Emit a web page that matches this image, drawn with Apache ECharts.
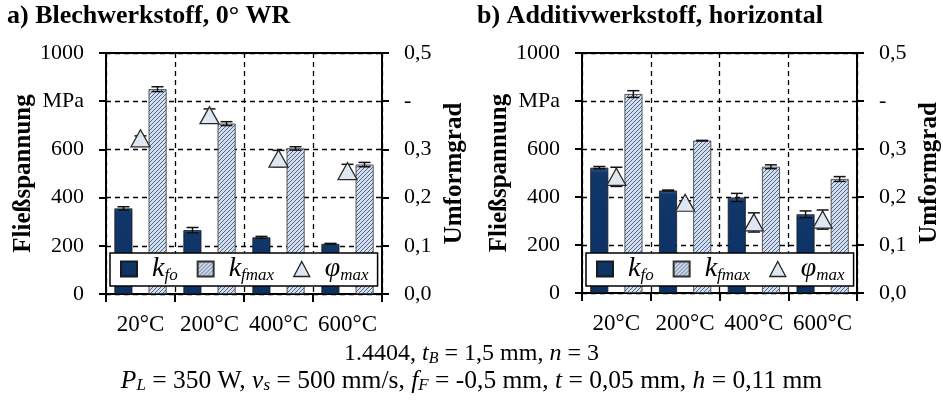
<!DOCTYPE html>
<html>
<head>
<meta charset="utf-8">
<script src="https://cdn.jsdelivr.net/npm/echarts@6/dist/echarts.min.js"></script>
<style>
  html, body { margin: 0; padding: 0; background: #fff; }
  #chart { width: 943px; height: 402px; }
</style>
</head>
<body>
<div id="chart"></div>
<script>
// Kategorien und Achsbeschriftungen
const categories = ['20°C', '200°C', '400°C', '600°C'];
const leftTickLabels = ['0', '200', '400', '600', 'MPa', '1000'];
const rightTickLabels = ['0,0', '0,1', '0,2', '0,3', '-', '0,5'];

// a) Blechwerkstoff
const aKfo = [355, 265, 235, 208];
const aKfoErr = [7, 11, 4, 2];
const aKfmax = [850, 707, 604, 537];
const aKfmaxErr = [10, 8, 7, 9];
const aPhi = [0.323, 0.371, 0.281, 0.255];
const aPhiErr = [0.005, 0.013, 0.017, 0.014];

// b) Additivwerkstoff
const bKfo = [522, 427, 398, 328];
const bKfoErr = [5, 2, 17, 14];
const bKfmax = [829, 635, 526, 475];
const bKfmaxErr = [14, 1, 8, 10];
const bPhi = [0.242, 0.188, 0.147, 0.153];
const bPhiErr = [0.02, 0.004, 0.02, 0.02];

const FONT = 'Liberation Serif';
const BAR_W = 18;
const BAR_OFF = 17;

// Schraffur fuer k_fmax
function hatch() {
  const c = document.createElement('canvas');
  c.width = 4; c.height = 4;
  const g = c.getContext('2d');
  g.fillStyle = '#d3ddeb';
  g.fillRect(0, 0, 4, 4);
  g.strokeStyle = '#50688f';
  g.lineWidth = 1;
  g.beginPath();
  g.moveTo(0, 4); g.lineTo(4, 0);
  g.moveTo(-1, 1); g.lineTo(1, -1);
  g.moveTo(3, 5); g.lineTo(5, 3);
  g.stroke();
  return c;
}
const hatchColor = { image: hatch(), repeat: 'repeat' };
const kfoColor = new echarts.graphic.LinearGradient(0, 0, 0, 1, [
  { offset: 0, color: '#3a6294' }, { offset: 0.04, color: '#10366a' }, { offset: 1, color: '#0c3163' }
]);

function errSeries(name, gi, yi, vals, errs, off) {
  return {
    type: 'custom', name: name + '_err', xAxisIndex: gi, yAxisIndex: yi, z: 4, silent: true,
    data: vals.map((v, i) => [i, v, errs[i]]),
    renderItem(params, api) {
      const x = api.value(0), v = api.value(1), e = api.value(2);
      const t = api.coord([x, v + e]);
      const b = api.coord([x, v - e]);
      const px = t[0] + off;
      const st = { stroke: '#111', lineWidth: 1.5 };
      return { type: 'group', children: [
        { type: 'line', shape: { x1: px, y1: t[1], x2: px, y2: b[1] }, style: st },
        { type: 'line', shape: { x1: px - 6, y1: t[1], x2: px + 6, y2: t[1] }, style: st },
        { type: 'line', shape: { x1: px - 6, y1: b[1], x2: px + 6, y2: b[1] }, style: st }
      ]};
    }
  };
}

function seriesFor(gi, kfo, kfoErr, kfmax, kfmaxErr, phi, phiErr) {
  const yl = gi * 2, yr = gi * 2 + 1;
  return [
    { type: 'bar', name: 'kfo', xAxisIndex: gi, yAxisIndex: yl, data: kfo, barWidth: BAR_W, barGap: '90%',
      itemStyle: { color: kfoColor, borderColor: '#1a1a1a', borderWidth: 0.8 } },
    { type: 'bar', name: 'kfmax', xAxisIndex: gi, yAxisIndex: yl, data: kfmax, barWidth: BAR_W, barGap: '90%',
      itemStyle: { color: hatchColor, borderColor: '#333', borderWidth: 0.8 } },
    errSeries('kfo', gi, yl, kfo, kfoErr, -BAR_OFF),
    errSeries('kfmax', gi, yl, kfmax, kfmaxErr, BAR_OFF),
    errSeries('phimax', gi, yr, phi, phiErr, 0),
    { type: 'scatter', name: 'phimax', xAxisIndex: gi, yAxisIndex: yr, data: phi, z: 5,
      symbol: 'triangle', symbolSize: [19, 17],
      itemStyle: { color: '#dfe7f3', borderColor: '#2a2a2a', borderWidth: 1.3, opacity: 1 } }
  ];
}

const grids = [
  { left: 106, width: 276, top: 53, height: 241 },
  { left: 582, width: 276, top: 53, height: 240 }
];

const axisLineStyle = { show: true, lineStyle: { color: '#000', width: 2 } };
const dashLine = { show: true, lineStyle: { color: '#000', width: 1.3, type: [5, 4] } };

const xAxes = grids.map((g, i) => ({
  type: 'category', gridIndex: i, data: categories, boundaryGap: true,
  axisLine: axisLineStyle,
  axisTick: { show: true, length: 8, lineStyle: { color: '#000', width: 2 } },
  axisLabel: { color: '#000', fontFamily: FONT, fontSize: 23, margin: 19, interval: 0 },
  splitLine: dashLine
}));

const yAxes = [];
grids.forEach((g, i) => {
  yAxes.push({
    type: 'value', gridIndex: i, position: 'left', min: 0, max: 1000, interval: 200,
    name: 'Fließspannung', nameLocation: 'middle', nameGap: 70, nameRotate: 90,
    nameTextStyle: { color: '#000', fontFamily: FONT, fontWeight: 'bold', fontSize: 25 },
    axisLine: axisLineStyle,
    axisTick: { show: true, length: 7, lineStyle: { color: '#000', width: 2 } },
    axisLabel: { color: '#000', fontFamily: FONT, fontSize: 22, margin: 22,
      formatter: v => leftTickLabels[Math.round(v / 200)] },
    splitLine: dashLine
  });
  yAxes.push({
    type: 'value', gridIndex: i, position: 'right', min: 0, max: 0.5, interval: 0.1,
    name: 'Umformgrad', nameLocation: 'middle', nameGap: 60, nameRotate: 90,
    nameTextStyle: { color: '#000', fontFamily: FONT, fontWeight: 'bold', fontSize: 25 },
    axisLine: axisLineStyle,
    axisTick: { show: true, length: 7, lineStyle: { color: '#000', width: 2 } },
    axisLabel: { color: '#000', fontFamily: FONT, fontSize: 22, margin: 22,
      formatter: v => rightTickLabels[Math.round(v / 0.1)] },
    splitLine: { show: false }
  });
});

const legendRich = {
  k: { fontFamily: FONT, fontStyle: 'italic', fontSize: 28, color: '#000', padding: [0, 0, 0, 10] },
  s: { fontFamily: FONT, fontStyle: 'italic', fontSize: 17, color: '#000', padding: [13, 0, 0, 0] }
};
const legendText = {
  kfo: '{k|k}{s|fo}',
  kfmax: '{k|k}{s|fmax}',
  phimax: '{k|φ}{s|max}'
};
const legends = grids.map((g, i) => ({
  left: g.left + 4, top: 253,
  orient: 'horizontal', itemWidth: 16, itemHeight: 15, itemGap: 19,
  padding: [2, 9, 2, 10], z: 10,
  backgroundColor: '#fff', borderColor: '#000', borderWidth: 1.5,
  data: [
    { name: 'kfo', icon: 'rect' },
    { name: 'kfmax', icon: 'rect' },
    { name: 'phimax', icon: 'triangle', itemStyle: { color: '#dfe7f3', borderColor: '#222', borderWidth: 1.3 } }
  ],
  formatter: n => legendText[n],
  textStyle: { rich: legendRich }
}));

const textRich = {
  n: { fontFamily: FONT, fontSize: 24, color: '#000' },
  i: { fontFamily: FONT, fontSize: 24, fontStyle: 'italic', color: '#000' },
  sub: { fontFamily: FONT, fontSize: 16, fontStyle: 'italic', color: '#000', padding: [9, 0, 0, 0] }
};
const textRich2 = {
  n: { fontFamily: FONT, fontSize: 25.5, color: '#000' },
  i: { fontFamily: FONT, fontSize: 25.5, fontStyle: 'italic', color: '#000' },
  sub: { fontFamily: FONT, fontSize: 17, fontStyle: 'italic', color: '#000', padding: [9, 0, 0, 0] }
};

const option = {
  animation: false,
  backgroundColor: '#fff',
  grid: grids.map(g => Object.assign({ show: true, borderColor: '#000', borderWidth: 2, backgroundColor: 'transparent' }, g)),
  xAxis: xAxes,
  yAxis: yAxes,
  legend: legends,
  series: seriesFor(0, aKfo, aKfoErr, aKfmax, aKfmaxErr, aPhi, aPhiErr)
    .concat(seriesFor(1, bKfo, bKfoErr, bKfmax, bKfmaxErr, bPhi, bPhiErr)),
  graphic: [
    { type: 'text', left: 7, top: 3, style: { text: 'a) Blechwerkstoff, 0° WR', fontFamily: FONT, fontWeight: 'bold', fontSize: 26, fill: '#000' } },
    { type: 'text', left: 477, top: 3, style: { text: 'b) Additivwerkstoff, horizontal', fontFamily: FONT, fontWeight: 'bold', fontSize: 26, fill: '#000' } },
    { type: 'text', left: 'center', top: 342, style: { text: '{n|1.4404, }{i|t}{sub|B}{n| = 1,5 mm, }{i|n}{n| = 3}', rich: textRich } },
    { type: 'text', left: 'center', top: 368, style: { text: '{i|P}{sub|L}{n| = 350 W, }{i|v}{sub|s}{n| = 500 mm/s, }{i|f}{sub|F}{n| = -0,5 mm, }{i|t}{n| = 0,05 mm, }{i|h}{n| = 0,11 mm}', rich: textRich2 } }
  ]
};

echarts.init(document.getElementById('chart')).setOption(option);
</script>
</body>
</html>
